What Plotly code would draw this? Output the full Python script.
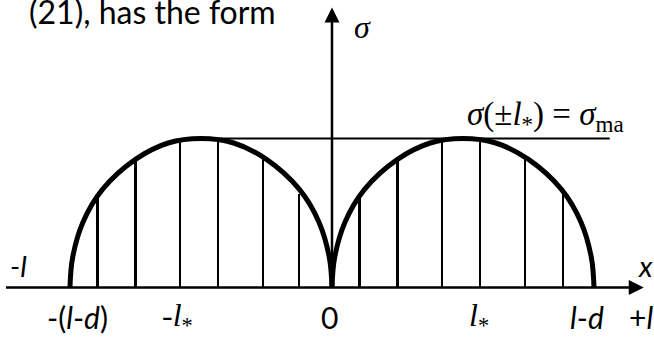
"""Stress distribution sketch: two elliptical arches with hatching."""

import plotly.graph_objects as go

# arch outline (x in units of l*, height in units of sigma_max)
arch_offsets = [-1.0, -0.98, -0.9, -0.75, -0.5, -0.25, 0.0, 0.25, 0.5, 0.75, 0.9, 0.98, 1.0]
arch_heights = [0.0, 0.2, 0.44, 0.66, 0.86, 0.97, 1.0, 0.97, 0.86, 0.66, 0.44, 0.2, 0.0]
arch_centers = [-1.0, 1.0]

# vertical hatch lines under the arches
hatch_x = [-1.79, -1.50, -1.16, -0.87, -0.53, -0.25, 0.21, 0.50, 0.84, 1.13, 1.47, 1.76]
hatch_h = [0.60, 0.86, 0.98, 0.98, 0.86, 0.63, 0.60, 0.86, 0.98, 0.98, 0.86, 0.63]

# sigma_max level line
smax_x = [-1.0, 2.12]
smax_y = [1.0, 1.0]

# axis tick labels along x
tick_pos = [-1.94, -1.18, -0.02, 1.12, 1.95, 2.36]
tick_text = [
    "-(<i>l</i>-<i>d</i>)",
    "-<i>l</i><sub>*</sub>",
    "0",
    "<i>l</i><sub>*</sub>",
    "<i>l</i>-<i>d</i>",
    "+<i>l</i>",
]
tick_serif = [False, True, False, True, False, False]

SANS = "Lato"
SERIF = "Liberation Serif"

fig = go.Figure()

# hatching
fig.add_trace(
    go.Bar(
        x=hatch_x,
        y=hatch_h,
        width=0.016,
        marker=dict(color="black", line=dict(width=0)),
        hoverinfo="skip",
    )
)

# arches
for center in arch_centers:
    fig.add_trace(
        go.Scatter(
            x=[center + o for o in arch_offsets],
            y=arch_heights,
            mode="lines",
            line=dict(color="black", width=5, shape="spline", smoothing=1.0),
            hoverinfo="skip",
        )
    )

# sigma_max line
fig.add_trace(
    go.Scatter(
        x=smax_x,
        y=smax_y,
        mode="lines",
        line=dict(color="black", width=2),
        hoverinfo="skip",
    )
)

# axes with arrows
fig.add_annotation(
    x=2.38, y=0, ax=-2.50, ay=0, xref="x", yref="y", axref="x", ayref="y",
    showarrow=True, arrowhead=2, arrowsize=1.2, arrowwidth=2.5, arrowcolor="black", text="",
)
fig.add_annotation(
    x=0, y=1.88, ax=0, ay=0, xref="x", yref="y", axref="x", ayref="y",
    showarrow=True, arrowhead=2, arrowsize=1.2, arrowwidth=2.5, arrowcolor="black", text="",
)

# tick labels
for pos, text, serif in zip(tick_pos, tick_text, tick_serif):
    fig.add_annotation(
        x=pos, y=-0.20, text=text, showarrow=False,
        font=dict(family=SERIF if serif else SANS, size=32 if serif else 30, color="black"),
    )

# other labels
fig.add_annotation(x=-2.39, y=0.15, text="<i>-l</i>", showarrow=False,
                   font=dict(family=SANS, size=29, color="black"))
fig.add_annotation(x=2.39, y=0.15, text="<i>x</i>", showarrow=False,
                   font=dict(family=SANS, size=29, color="black"))
fig.add_annotation(x=0.23, y=1.75, text="<i>σ</i>", showarrow=False,
                   font=dict(family=SERIF, size=32, color="black"))
fig.add_annotation(
    x=1.63, y=1.15,
    text="<i>σ</i>(±<i>l</i><sub>*</sub>) = <i>σ</i><sub>ma</sub>",
    showarrow=False, font=dict(family=SERIF, size=33, color="black"),
)
fig.add_annotation(
    x=27 / 654, y=1.03, xref="paper", yref="paper", xanchor="left", yanchor="top",
    text="(21), has the form", showarrow=False,
    font=dict(family=SANS, size=32, color="black"),
)

fig.update_layout(
    width=654,
    height=338,
    margin=dict(l=0, r=0, t=0, b=0),
    paper_bgcolor="white",
    plot_bgcolor="white",
    showlegend=False,
    bargap=0,
)
fig.update_xaxes(visible=False, range=[-2.534, 2.458])
fig.update_yaxes(visible=False, range=[-0.339, 1.930])

fig.write_html(
    "out.html",
    config={"displayModeBar": False},
    post_script="document.body.style.margin = '0';",
)
